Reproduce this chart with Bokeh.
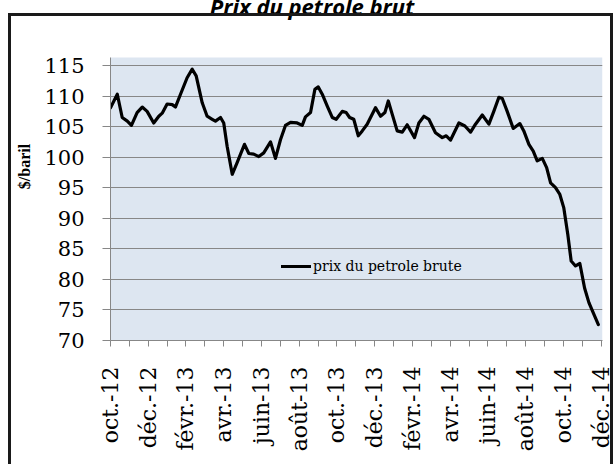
import math
from bokeh.plotting import figure
from bokeh.models import (FixedTicker, Range1d, Label, Legend, LegendItem,
                          ColumnDataSource, InlineStyleSheet)
from bokeh.embed import file_html
from bokeh.resources import INLINE

# months since oct. 2012
mois = [0.00, 0.36, 0.62, 0.89, 1.11, 1.41, 1.68, 1.94, 2.29, 2.56, 2.74, 3.00,
        3.27, 3.44, 3.71, 4.06, 4.33, 4.54, 4.86, 5.12, 5.39, 5.56, 5.83, 6.00,
        6.18, 6.45, 6.71, 6.89, 7.10, 7.33, 7.59, 7.86, 8.12, 8.48, 8.74, 9.01,
        9.27, 9.54, 9.89, 10.16, 10.33, 10.60, 10.83, 11.01, 11.22, 11.48, 11.75,
        11.96, 12.28, 12.49, 12.67, 12.89, 13.13, 13.34, 13.60, 14.04, 14.31,
        14.54, 14.72, 14.93, 15.19, 15.46, 15.72, 16.11, 16.34, 16.61, 16.87,
        17.22, 17.58, 17.79, 18.02, 18.46, 18.78, 19.08, 19.34, 19.70, 20.05,
        20.31, 20.58, 20.76, 21.02, 21.34, 21.69, 21.90, 22.17, 22.40, 22.61,
        22.88, 23.11, 23.32, 23.58, 23.81, 24.02, 24.23, 24.41, 24.64, 24.87,
        25.12, 25.35, 25.61, 25.85]
prix = [108.1, 110.3, 106.5, 105.9, 105.2, 107.3, 108.2, 107.5, 105.6, 106.7, 107.2, 108.7,
        108.6, 108.2, 110.3, 113.0, 114.4, 113.3, 108.9, 106.7, 106.2, 105.9, 106.5, 105.6,
        101.8, 97.2, 99.1, 100.5, 102.1, 100.6, 100.5, 100.1, 100.7, 102.5, 99.8, 102.9,
        105.2, 105.7, 105.6, 105.2, 106.6, 107.3, 111.1, 111.5, 110.3, 108.4, 106.5,
        106.2, 107.5, 107.3, 106.5, 106.2, 103.5, 104.3, 105.4, 108.1, 106.7,
        107.3, 109.2, 107.0, 104.3, 104.1, 105.3, 103.2, 105.6, 106.7, 106.2,
        104.0, 103.2, 103.5, 102.8, 105.6, 105.1, 104.1, 105.4, 106.9, 105.4,
        107.5, 109.8, 109.6, 107.5, 104.7, 105.5, 104.3, 102.1, 101.0, 99.4,
        99.8, 98.3, 95.8, 95.0, 93.9, 91.7, 87.4, 83.0, 82.2, 82.6,
        78.6, 76.2, 74.3, 72.6]

tick_mois = list(range(0, 27))
label_mois = list(range(0, 27, 2))
labels = ["oct.-12", "déc.-12", "févr.-13", "avr.-13", "juin-13", "août-13",
          "oct.-13", "déc.-13", "févr.-14", "avr.-14", "juin-14", "août-14",
          "oct.-14", "déc.-14"]
y_ticks = [70, 75, 80, 85, 90, 95, 100, 105, 110, 115]
serie = "prix du petrole brute"
titre = "Prix du petrole brut"
y_titre = "$/baril"

x_min, x_max = 0, 26.07
y_min, y_zone, y_max = 70, 116.3, 126.95   # plot area ends at y_zone; title above it

src = ColumnDataSource(data=dict(mois=mois, prix=prix))

# canvas shifted up by 8px (title partly above the window); frame reaches canvas top
p = figure(width=613, height=472, x_range=Range1d(x_min, x_max), y_range=Range1d(y_min, y_max),
           output_backend="svg", toolbar_location=None,
           min_border_left=110, min_border_right=11, min_border_top=0, min_border_bottom=124)
p.margin = (-8, 0, 0, 0)
p.background_fill_color = "white"
p.border_fill_color = "white"
p.outline_line_color = None
p.stylesheets = [InlineStyleSheet(css=(
    ":host::after { content: ''; position: absolute; left: 8px; top: 21px; "
    "right: 0px; bottom: -20px; border: 3px solid #1a1a1a; pointer-events: none; }"))]

# plot-area background
p.quad(left=[x_min], right=[x_max], bottom=[y_min], top=[y_zone], fill_color="#dde6f1",
       line_color=None, level="image")

p.xgrid.visible = False
p.ygrid.ticker = FixedTicker(ticks=y_ticks)
p.ygrid.grid_line_color = "#878787"
p.ygrid.grid_line_width = 1

ax = p.yaxis[0]
ax.ticker = FixedTicker(ticks=y_ticks)
ax.bounds = (y_min, y_zone)
ax.axis_line_color = "#878787"
ax.major_tick_line_color = "#878787"
ax.major_tick_out = 8
ax.major_tick_in = 0
ax.minor_tick_line_color = None
ax.major_label_text_font = "DejaVu Serif"
ax.major_label_text_font_size = "21px"
ax.major_label_text_color = "black"
ax.major_label_standoff = 18
ax.axis_label = y_titre
ax.axis_label_text_font = "Liberation Serif"
ax.axis_label_text_font_style = "bold"
ax.axis_label_text_font_size = "16px"
ax.axis_label_text_color = "black"
ax.axis_label_standoff = 8

bx = p.xaxis[0]
bx.ticker = FixedTicker(ticks=tick_mois)
over = {m: "" for m in tick_mois}
for m, t in zip(label_mois, labels):
    over[m] = t
bx.major_label_overrides = over
bx.major_label_orientation = math.pi / 2
bx.axis_line_color = "#878787"
bx.major_tick_line_color = "#878787"
bx.major_tick_out = 6
bx.major_tick_in = 0
bx.minor_tick_line_color = None
bx.major_label_text_font = "DejaVu Serif"
bx.major_label_text_font_size = "22px"
bx.major_label_text_color = "black"
bx.major_label_standoff = 20

r = p.line("mois", "prix", source=src, line_color="black", line_width=3.2,
           line_join="round", line_cap="round")

leg = Legend(items=[LegendItem(label=serie, renderers=[r])], location=(171, 64))
leg.padding = 0
leg.margin = 0
leg.spacing = 0
leg.glyph_width = 30
leg.glyph_height = 20
leg.label_height = 20
leg.label_standoff = 2
leg.border_line_color = None
leg.background_fill_alpha = 0
leg.label_text_font = "DejaVu Serif"
leg.label_text_font_size = "14px"
leg.label_text_color = "black"
p.add_layout(leg, "center")

# title: frame-relative screen units (frame bottom-left = page (110, 340))
p.add_layout(Label(x=201.5, y=335, x_units="screen", y_units="screen", text=titre,
                   text_align="center", text_baseline="alphabetic", text_font="Open Sans",
                   text_font_style="bold italic", text_font_size="22px", text_color="black"))

open("out.html", "w").write(file_html(p, INLINE))
